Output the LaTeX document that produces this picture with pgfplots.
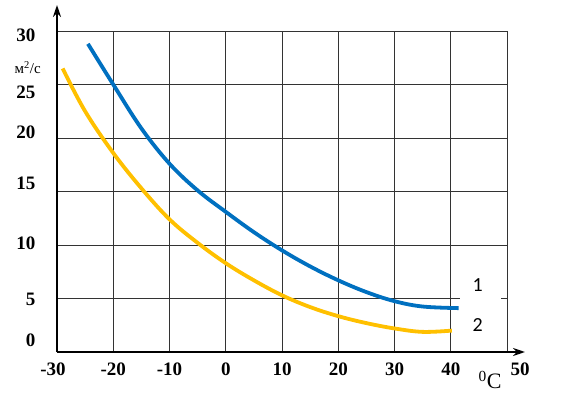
\documentclass[border=0pt]{standalone}
\usepackage{pgfplots}
\pgfplotsset{compat=1.18}
\usepackage{fontspec}
\setmainfont{Liberation Serif}
\newfontfamily\calib{Carlito}
\usetikzlibrary{arrows.meta}
\definecolor{c1}{RGB}{0,112,192}
\definecolor{c2}{RGB}{255,192,0}
\newcommand{\yl}[2]{\raisebox{#1}[0pt][0pt]{#2}}
\begin{document}
\begin{tikzpicture}
\useasboundingbox (0,0) rectangle (562pt,399pt);
\begin{axis}[
  at={(57pt,47pt)}, anchor=south west,
  scale only axis, width=450pt, height=321pt,
  xmin=-30, xmax=50, ymin=0, ymax=30,
  clip=false,
  axis lines=left,
  axis line style={line width=2.4pt, -{Stealth[length=12pt,width=8pt]}},
  x axis line style={shorten >=-18pt},
  y axis line style={shorten >=-26pt},
  grid=major,
  major grid style={line width=0.9pt, draw=black!80},
  major tick length=0pt,
  xtick={-30,-20,...,50},
  ytick={0,5,...,30},
  xticklabels={{\hspace*{-8pt}-30},-20,-10,0,10,20,30,40,{\hspace*{26pt}50}},
  yticklabels={{\yl{5.5pt}{0}},{\yl{-6.5pt}{5}},{\yl{-4.5pt}{10}},{\yl{2.5pt}{15}},{\yl{-0.5pt}{20}},{\yl{-14.5pt}{25}},{\yl{-10.5pt}{30}}},
  ticklabel style={font=\fontsize{19}{22}\selectfont\bfseries},
  yticklabel style={xshift=-18pt},
  xticklabel style={yshift=-7pt},
]
\fill[white] (axis cs:41.7,4.6) rectangle (axis cs:48.9,5.4);
\addplot[c1, line width=3.8pt, smooth, tension=0.6] coordinates {
(-24.5,28.8) (-20,25.0) (-15,20.9) (-10,17.6) (-5,15.1) (0,13.1) (5,11.2) (10,9.5)
(15,8.0) (20,6.7) (25,5.6) (30,4.75) (35,4.25) (41.4,4.1)};
\addplot[c2, line width=3.8pt, smooth, tension=0.6] coordinates {
(-29,26.5) (-25,22.5) (-20,18.6) (-15,15.3) (-10,12.4) (-5,10.2) (0,8.3) (5,6.7)
(10,5.3) (15,4.2) (20,3.35) (25,2.7) (30,2.2) (35,1.88) (40.2,2.0)};
\node[font=\fontsize{15}{18}\selectfont] at (axis cs:-35.2,26.6) {м\textsuperscript{2}/с};
\node[font=\fontsize{22}{26}\selectfont] at (axis cs:47.0,-2.6) {\textsuperscript{0}С};
\node[font=\calib\fontsize{20}{24}\selectfont] at (axis cs:44.8,6.3) {1};
\node[font=\calib\fontsize{20}{24}\selectfont] at (axis cs:44.8,2.5) {2};
\end{axis}
\end{tikzpicture}
\end{document}
